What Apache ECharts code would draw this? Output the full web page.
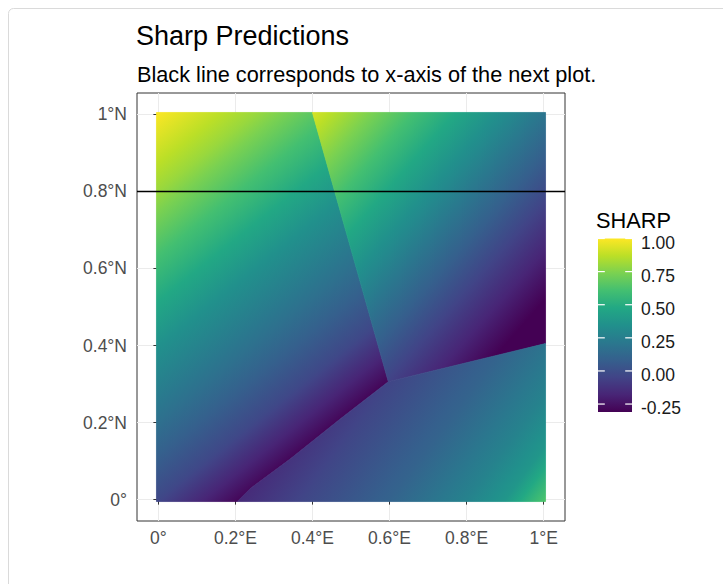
<!DOCTYPE html>
<html>
<head>
<meta charset="utf-8">
<script src="https://cdn.jsdelivr.net/npm/echarts@6/dist/echarts.min.js"></script>
<style>
  html, body { margin: 0; padding: 0; background: #ffffff; }
  #chart { width: 723px; height: 584px; }
</style>
</head>
<body>
<div id="chart"></div>
<script>
// ---- colour scale -------------------------------------------------------
const valueRange = [-0.31, 1.0];
const viridisStops = ['#440154', '#482576', '#414487', '#35608D', '#2A788E',
                      '#21908C', '#22A884', '#43BF71', '#7AD151', '#BBDF27', '#FDE725'];

// ---- axis ticks ---------------------------------------------------------
const axisTicks = [0, 0.2, 0.4, 0.6, 0.8, 1];
const xTickLabels = ['0°', '0.2°E', '0.4°E', '0.6°E', '0.8°E', '1°E'];
const yTickLabels = ['0°', '0.2°N', '0.4°N', '0.6°N', '0.8°N', '1°N'];
const legendTicks = [-0.25, 0, 0.25, 0.5, 0.75, 1.0];
const legendTickLabels = ['-0.25', '0.00', '0.25', '0.50', '0.75', '1.00'];
const guideLineLat = 0.8;

// ---- prediction regions (lon, lat outlines) -----------------------------
const regionWest = [[-0.005, 1.005], [0.40, 1.005], [0.597, 0.306], [0.473, 0.21],
                    [0.343, 0.106], [0.239, 0.029], [0.205, -0.005], [-0.005, -0.005]];
const regionNorthEast = [[0.40, 1.005], [1.005, 1.005], [1.005, 0.405], [0.597, 0.306]];
const regionSouthEast = [[0.597, 0.306], [1.005, 0.405], [1.005, -0.005], [0.205, -0.005],
                         [0.239, 0.029], [0.343, 0.106], [0.473, 0.21]];

// direction of change inside each region: [from, to]
const westAxis = [[0, 1], [0.573, 0.284]];
const northEastAxis = [[1.005, 0.405], [0.367, 0.968]];
const southEastAxis = [[0.488, 0.384], [1.008, -0.006]];

// SHARP along each direction: [position 0..1, value]
const westProfile = [[0, 0.99], [0.17, 0.80], [0.34, 0.57], [0.51, 0.35], [0.68, 0.17], [0.85, -0.03], [1, -0.30]];
const northEastProfile = [[0, -0.31], [0.09, -0.31], [0.30, -0.03], [0.55, 0.31], [0.80, 0.65], [1, 0.925]];
const southEastProfile = [[0, -0.16], [0.215, -0.04], [0.492, 0.10], [0.738, 0.27], [0.862, 0.38], [1, 0.65]];

const regions = [
  { outline: regionWest, axis: westAxis, profile: westProfile },
  { outline: regionNorthEast, axis: northEastAxis, profile: northEastProfile },
  { outline: regionSouthEast, axis: southEastAxis, profile: southEastProfile }
];

// ---- helpers ------------------------------------------------------------
const FONT = "'Liberation Sans', Arial, Helvetica, sans-serif";

function hexToRgb(h) {
  return [parseInt(h.slice(1, 3), 16), parseInt(h.slice(3, 5), 16), parseInt(h.slice(5, 7), 16)];
}
const viridisRgb = viridisStops.map(hexToRgb);

function toT(v) {
  return Math.min(1, Math.max(0, (v - valueRange[0]) / (valueRange[1] - valueRange[0])));
}
function colorAtT(t) {
  const p = t * (viridisRgb.length - 1);
  const i = Math.min(viridisRgb.length - 2, Math.floor(p));
  const f = p - i;
  const a = viridisRgb[i], b = viridisRgb[i + 1];
  const c = a.map((x, k) => Math.round(x + (b[k] - x) * f));
  return 'rgb(' + c.join(',') + ')';
}
function colorAt(v) { return colorAtT(toT(v)); }

// Colour stops for one region: the read values, plus the colour-scale knots
// crossed between them so the ramp follows viridis rather than straight RGB.
function gradientStops(profile) {
  const stops = [];
  const n = viridisStops.length - 1;
  for (let k = 0; k < profile.length; k++) {
    const [f, v] = profile[k];
    stops.push({ offset: f, color: colorAt(v) });
    if (k < profile.length - 1) {
      const [f2, v2] = profile[k + 1];
      const t1 = toT(v), t2 = toT(v2);
      if (t1 === t2) continue;
      const knots = [];
      for (let j = 1; j < n; j++) {
        const kt = j / n;
        if (kt > Math.min(t1, t2) && kt < Math.max(t1, t2)) knots.push(kt);
      }
      if (t2 < t1) knots.reverse();
      knots.forEach(kt => {
        const frac = (kt - t1) / (t2 - t1);
        stops.push({ offset: f + (f2 - f) * frac, color: colorAtT(kt) });
      });
    }
  }
  return stops;
}

function labelFor(values, labels) {
  return function (v) {
    for (let i = 0; i < values.length; i++) {
      if (Math.abs(values[i] - v) < 1e-6) return labels[i];
    }
    return '';
  };
}

// ---- chart --------------------------------------------------------------
const chart = echarts.init(document.getElementById('chart'), null, { renderer: 'svg' });

const panelRange = [-0.0555, 1.0555];

const option = {
  animation: false,
  backgroundColor: '#ffffff',
  textStyle: { fontFamily: FONT },
  graphic: [{
    type: 'rect',
    silent: true,
    z: -10,
    shape: { x: 8.5, y: 8.5, width: 760, height: 640, r: 5 },
    style: { fill: 'none', stroke: '#DADADA', lineWidth: 1 }
  }],
  title: [
    {
      text: 'Sharp Predictions',
      left: 136, top: 22, padding: 0,
      textStyle: { fontFamily: FONT, fontSize: 27, fontWeight: 'normal', color: '#000000' }
    },
    {
      text: 'Black line corresponds to x-axis of the next plot.',
      left: 137, top: 63, padding: 0,
      textStyle: { fontFamily: FONT, fontSize: 21.7, fontWeight: 'normal', color: '#000000' }
    },
    {
      text: 'SHARP',
      left: 596, top: 209, padding: 0,
      textStyle: { fontFamily: FONT, fontSize: 21.8, fontWeight: 'normal', color: '#000000' }
    }
  ],
  grid: [
    {
      left: 137, top: 93, width: 428, height: 428,
      show: true, borderColor: '#333333', borderWidth: 1, backgroundColor: 'transparent'
    },
    { left: 598, top: 238.5, width: 34, height: 173.5 }
  ],
  xAxis: [
    {
      type: 'value', gridIndex: 0, min: panelRange[0], max: panelRange[1],
      axisLine: { show: false },
      axisTick: { show: true, length: 5, customValues: axisTicks, lineStyle: { color: '#333333', width: 1 } },
      axisLabel: {
        customValues: axisTicks, margin: 8, fontSize: 17.5, color: '#4D4D4D', fontFamily: FONT,
        formatter: labelFor(axisTicks, xTickLabels)
      },
      splitLine: { show: true, lineStyle: { color: '#EBEBEB', width: 1 } }
    },
    {
      type: 'value', gridIndex: 1, min: 0, max: 1, show: false
    }
  ],
  yAxis: [
    {
      type: 'value', gridIndex: 0, min: panelRange[0], max: panelRange[1],
      axisLine: { show: false },
      axisTick: { show: true, length: 5, customValues: axisTicks, lineStyle: { color: '#333333', width: 1 } },
      axisLabel: {
        customValues: axisTicks, margin: 10, fontSize: 17.5, color: '#4D4D4D', fontFamily: FONT,
        formatter: labelFor(axisTicks, yTickLabels)
      },
      splitLine: { show: true, lineStyle: { color: '#EBEBEB', width: 1 } }
    },
    {
      type: 'value', gridIndex: 1, min: valueRange[0], max: valueRange[1], show: false
    }
  ],
  series: [
    {
      // SHARP prediction surface, one shaded polygon per region
      type: 'custom',
      xAxisIndex: 0, yAxisIndex: 0,
      silent: true,
      data: regions.map((r, i) => [i, 0]),
      renderItem: function (params, api) {
        const r = regions[params.dataIndex];
        const pts = r.outline.map(p => api.coord(p));
        const a = api.coord(r.axis[0]);
        const b = api.coord(r.axis[1]);
        const fill = new echarts.graphic.LinearGradient(a[0], a[1], b[0], b[1], gradientStops(r.profile), true);
        return {
          type: 'polygon',
          shape: { points: pts },
          style: { fill: fill, stroke: fill, lineWidth: 0.8 }
        };
      },
      z: 2
    },
    {
      // horizontal guide at the latitude used by the next plot
      type: 'line',
      xAxisIndex: 0, yAxisIndex: 0,
      data: [],
      z: 5,
      markLine: {
        silent: true,
        symbol: ['none', 'none'],
        label: { show: false },
        lineStyle: { color: '#000000', width: 1.3, type: 'solid' },
        data: [{ yAxis: guideLineLat }]
      }
    },
    {
      // colour bar
      type: 'custom',
      xAxisIndex: 1, yAxisIndex: 1,
      silent: true,
      data: [[0, 0]],
      renderItem: function (params, api) {
        const top = api.coord([0, valueRange[1]]);
        const bottom = api.coord([1, valueRange[0]]);
        const stops = viridisStops.map((c, i) => ({ offset: i / (viridisStops.length - 1), color: c }));
        return {
          type: 'rect',
          shape: { x: top[0], y: top[1], width: bottom[0] - top[0], height: bottom[1] - top[1] },
          style: { fill: new echarts.graphic.LinearGradient(top[0], bottom[1], top[0], top[1], stops, true) }
        };
      },
      z: 2
    },
    {
      // colour bar ticks (white) and their labels
      type: 'custom',
      xAxisIndex: 1, yAxisIndex: 1,
      silent: true,
      data: legendTicks.map((v, i) => [0, v, i]),
      renderItem: function (params, api) {
        const v = api.value(1);
        const l0 = api.coord([0, v]), l1 = api.coord([0.2, v]);
        const r0 = api.coord([0.8, v]), r1 = api.coord([1, v]);
        const style = { stroke: '#ffffff', lineWidth: 1.2 };
        return {
          type: 'group',
          children: [
            { type: 'line', shape: { x1: l0[0], y1: l0[1], x2: l1[0], y2: l1[1] }, style: style },
            { type: 'line', shape: { x1: r0[0], y1: r0[1], x2: r1[0], y2: r1[1] }, style: style },
            {
              type: 'text',
              x: r1[0] + 9, y: r1[1] + 4,
              style: {
                text: legendTickLabels[api.value(2)],
                fontFamily: FONT, fontSize: 17.5, fill: '#1A1A1A',
                align: 'left', verticalAlign: 'middle'
              }
            }
          ]
        };
      },
      z: 3
    }
  ]
};

chart.setOption(option);
</script>
</body>
</html>
